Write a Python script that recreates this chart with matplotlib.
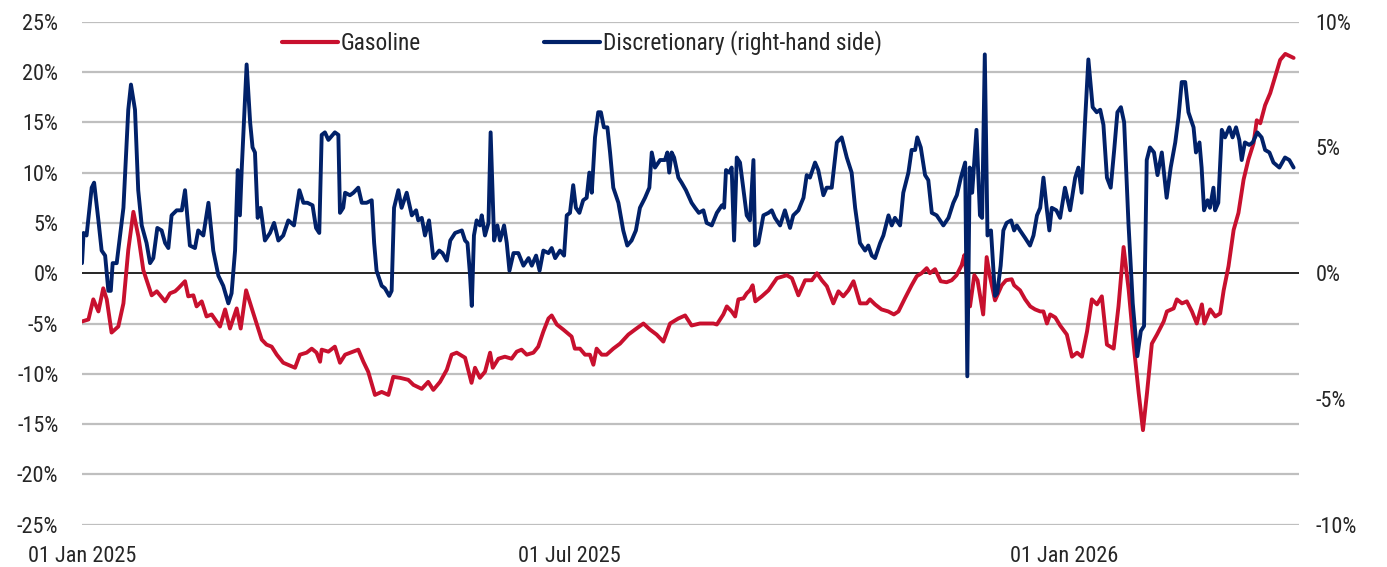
import matplotlib
matplotlib.use("Agg")
import matplotlib.pyplot as plt
import matplotlib.dates as mdates
import pandas as pd
from matplotlib.lines import Line2D

plt.rcParams['font.family'] = ['Roboto Condensed', 'Open Sans Condensed', 'Liberation Sans', 'DejaVu Sans']
plt.rcParams['axes.unicode_minus'] = False

start_date = "2025-01-01"
end_date_days = 452.4

# Gasoline (left axis, %), days since 1 Jan 2025
gas_days = [0, 2.4, 4.2, 6.1, 7.9, 9.2, 11, 13.5, 15.4, 17.2, 19.1, 21, 22.8, 25.9, 27.8, 30.9,
            32.7, 34.6, 35.8, 38.3, 39.5, 41.4, 42.6, 44.5, 46.3, 48.2, 51.3, 53.2, 55, 57.5, 59,
            61, 63.7, 66.8, 68.6, 70.5, 72.4, 74.8, 79.2, 81, 83.5, 85.4, 87.2, 88.5, 89.1, 91.6,
            94, 95.9, 97.8, 102.7, 104.6, 106.4, 108.9, 111.4,
            113.9, 115.7, 118.2, 121.3, 123.2, 126.3, 128.7, 130.6, 133.1, 135.6, 137.4, 139.3,
            142.4, 144.8, 146.1, 147.9, 149.8, 151.7, 152.7, 154.8, 157.2, 159.7, 161.6, 163.4,
            165.3, 167.8, 169.6, 171.5, 173.4, 174.6, 176.5, 178.9, 182, 183.2, 185.1, 187,
            188.8, 190.1, 191.3, 193.2, 195, 197.5, 200, 203.1, 205.6, 208.7, 211.1, 213.6,
            216.1, 218.6, 221.7, 224.2,
            226.6, 229.7, 234.7, 236, 238.4, 239.7, 241.5, 242.8, 244, 245.9, 247.1, 248.3,
            249.3, 250.3, 252.7, 255.2, 258.3, 262, 263.9, 266.3, 268.8, 271.3, 273.2, 275,
            276.9, 279.3, 281.2, 283, 284.9, 286.8, 289.2, 291.7, 292.9, 294.8, 297.2, 299.7,
            301.8, 303.5, 305.9, 308.4, 310.3, 312.1, 314, 315.2, 317.1, 319.2, 321.4, 323.3,
            325.1, 327, 328, 330.1, 331.7, 332.9, 335, 336.3, 337.5, 339.4, 341.9, 343.5,
            345.6, 346.5, 348.7, 350.6, 352.5, 354.3, 356.2, 357.4, 358.7, 359.9, 361.8, 363.6,
            366.1, 368, 369.9, 371.7, 373.6, 375.4, 377.3, 379.1, 381, 383.5, 385.3, 387.2,
            389.1, 390.9, 392.8, 394.4, 395.9, 397.7, 399.6, 402.1, 403.3, 405.8, 407, 408.9,
            410.7, 412.6, 414.4, 416.3, 417.2, 419.4, 421.3, 423.1, 424.4, 426.2, 428.1, 429.9,
            431.8, 433.6, 435.5, 436.7, 438, 439.8, 441.7, 443.5, 445.4, 447.3, 450.4]
gas_vals = [-4.8, -4.6, -2.6, -3.8, -1.5, -2.6, -5.9, -5.3, -3.0, 2.3, 6.1, 3.6, 0.3, -2.2, -1.8, -2.8,
            -2.0, -1.8, -1.5, -0.8, -2.3, -2.2, -3.3, -2.8, -4.3, -4.1, -5.3, -3.6, -5.5, -3.5, -5.5,
            -1.7, -4.0, -6.6, -7.1, -7.3, -8.1, -8.9, -9.4, -8.1, -7.9, -7.5, -7.9, -8.8, -7.6, -7.8,
            -7.3, -8.9, -8.1, -7.6, -8.8, -9.8, -12.1, -11.8,
            -12.1, -10.3, -10.4, -10.6, -11.1, -11.5, -10.8, -11.6, -10.8, -9.6, -8.1, -7.9,
            -8.4, -10.9, -9.4, -10.4, -9.8, -7.9, -9.4, -8.5, -8.3, -8.5, -7.8, -7.6,
            -8.1, -7.9, -7.3, -5.8, -4.5, -4.2, -5.1, -5.6, -6.3, -7.5, -7.5, -8.1,
            -8.1, -9.1, -7.5, -8.1, -8.1, -7.5, -7.0, -6.1, -5.6, -5.0, -5.6, -6.1,
            -6.8, -5.0, -4.5, -4.2,
            -5.2, -5.0, -5.0, -5.1, -4.1, -3.3, -3.8, -4.3, -2.6, -2.5, -2.0, -1.7,
            -1.2, -2.8, -2.3, -1.7, -0.5, -0.2, -0.5, -2.2, -0.7, -0.7, 0.0, -0.7,
            -1.3, -3.0, -1.8, -2.3, -1.7, -0.8, -3.0, -3.0, -2.6, -3.1, -3.6, -3.8,
            -4.1, -3.8, -2.5, -1.2, -0.3, 0.0, 0.5, 0.0, 0.4, -0.8, -0.9, -0.7,
            -0.2, 0.8, 1.8, -3.3, -0.2, -0.7, -4.1, 1.6, -0.3, -2.7, -1.2, -0.7,
            -0.6, -1.2, -1.7, -2.6, -3.3, -3.6, -3.8, -3.8, -5.0, -4.1, -4.4, -5.2,
            -6.1, -8.3, -7.9, -8.3, -5.8, -2.6, -3.1, -2.3, -7.1, -7.5, -3.3, 2.6,
            -1.7, -7.0, -11.9, -15.6, -11.9, -7.0, -6.1, -4.8, -3.8, -3.5, -2.6, -3.0,
            -2.8, -3.8, -5.0, -3.1, -5.0, -3.6, -4.3, -4.0, -1.7, 0.7, 4.3, 6.0,
            9.3, 11.3, 12.9, 15.2, 14.9, 16.7, 17.9, 19.5, 21.2, 21.8, 21.4]

# Discretionary (right axis, %), days since 1 Jan 2025
disc_days = [0, 0.6, 1.7, 3.6, 4.5, 6.1, 7.3, 8.6, 9.8, 10.7, 11.4, 12.9, 15.4, 17.2, 18.2, 19.7,
             20.9, 22.2, 24, 25.3, 26.5, 28, 29.6, 30.9, 32.1, 33.3, 35.2, 37.1, 38.3, 40.1, 42,
             43.2, 45.1, 47, 48.8, 50.7, 52.5, 54.4, 55.6, 56.9, 57.9, 58.7, 59.4, 61.2, 62.5,
             63.4, 64.3, 65.3, 66.4, 68, 69.9, 71.4, 73, 74.8, 76.7, 78.8, 80.8, 82.3, 83.8, 85.7,
             87, 88.2, 89.1, 90.3, 91.6, 94, 95.3, 95.9, 97.1, 97.8, 99.6, 100.9, 102.7, 104,
             105.8, 107.7, 108.6, 109.5, 111.4, 112.6, 114.2, 115.1, 116, 117.6, 118.8, 120.7,
             122.6, 124.2, 125, 126.3, 127.5, 129, 130.6, 132.8, 134, 135.6, 136.9, 138.7, 141.2,
             142.4, 143.3, 144.2, 144.9, 145.7, 146.7, 147.9, 148.6, 149.8, 151.1, 151.9, 153.2,
             154.4, 155.4, 156.9, 157.9, 158.9, 160.4, 162.2, 164.1, 166, 167.2, 168.8, 170.1,
             171.5, 173.4, 174.6, 175.9, 177.7, 179.2, 180.2, 181.4, 182.6, 183.6, 184.9, 186.3,
             187.6, 188.6, 189.5, 190.7, 191.9, 192.9, 194, 195.3, 196.3, 197.5, 199.4, 201.2,
             202.7, 204.3, 205.9, 207.4, 209.3, 210.9, 211.8, 213, 214.9, 216.7, 217.6, 218.3,
             219.2, 220.1, 221.7, 222.9, 224.5, 226.6, 227.9, 229.3, 231, 232.2, 234.1, 236,
             237.9, 238.7, 239.4, 240.6, 241.5, 242.4, 243.4, 244.6, 245.9, 247.1, 248.3, 249.6,
             250.2, 251.4, 253.3, 255.2, 256.4, 257.6, 259.5, 261.3, 263.2, 264.4, 266.3, 268.2,
             269.4, 270.6, 272.5, 273.7, 275.6, 276.8, 278.7, 280.6, 282.4, 284.3, 286.1, 287.4,
             289.2, 291.1, 292.3, 293.6, 294.8, 296.7, 297.9, 299.8, 301, 302.2, 304.1, 305.3,
             307.2, 308.4, 309.7, 310.5, 311.8, 313.4, 314.6, 315.9, 317.7, 320.2, 322.1, 323.9,
             325.2, 326.7, 328.3, 329.1, 330, 330.9, 332.5, 333.8, 334.6, 335.6, 336.6, 337.9,
             339.4, 340.2, 341.5, 342.5, 343.7, 345.4, 346.5, 347.5, 348.7, 350.6, 352.4, 353.7,
             355, 356.2, 357.4, 358.7, 359.6, 360.5, 362.2, 363.6, 365.4, 367.3, 369.2, 370.4,
             371.6, 372.9, 374.1, 375.7, 377.2, 378.5, 379.7, 381, 382.4, 383.7, 384.9, 386.2,
             387.4, 389, 390.6, 392.3, 393.6, 394.8, 395.8, 397, 398.5, 399.8, 401.4, 403.2,
             404.7, 406.4, 407.6, 408.8, 410.1, 411.3, 413.2, 414.1, 415.4, 416.2, 417.1, 418.4,
             419.3, 420.6, 421.2, 422.4, 423.7, 424.9, 426.5, 427.7, 429, 430.2, 431.1, 432.3,
             433.9, 435.2, 436.9, 438.5, 439.8, 441.4, 442.9, 445.1, 447.2, 448.8, 450.4]
disc_vals = [0.4, 1.6, 1.5, 3.4, 3.6, 2.1, 0.9, 0.7, -0.7, -0.7, 0.4, 0.4, 2.6, 6.5, 7.5, 6.5,
             3.3, 1.9, 1.2, 0.4, 0.6, 1.8, 1.7, 1.2, 1.0, 2.3, 2.5, 2.5, 3.3, 1.1, 1.0,
             1.7, 1.5, 2.8, 0.9, -0.1, -0.5, -1.2, -0.8, 0.9, 4.1, 2.3, 4.2, 8.3, 6.0,
             5.0, 4.8, 2.2, 2.6, 1.3, 1.6, 2.0, 1.3, 1.5, 2.1, 1.9, 3.3, 2.8, 2.8, 2.7,
             1.8, 1.6, 5.5, 5.6, 5.3, 5.6, 5.5, 2.4, 2.6, 3.2, 3.1, 3.2, 3.4, 2.8,
             2.8, 2.9, 1.2, 0.1, -0.5, -0.6, -0.9, -0.7, 2.6, 3.3, 2.6, 3.2,
             2.3, 2.5, 2.1, 2.2, 1.5, 2.1, 0.6, 0.9, 0.8, 0.5, 1.3, 1.6, 1.7,
             1.3, 1.2, 0.0, -1.3, 1.5, 2.1, 1.9, 2.3, 1.5, 2.0, 5.6, 1.3,
             1.9, 1.3, 1.9, 1.2, 0.1, 0.8, 0.8, 0.3, 0.6, 0.3, 0.7, 0.1,
             0.9, 0.8, 1.0, 0.6, 0.9, 0.7, 2.3, 2.4, 3.5, 2.6, 2.4, 2.9,
             3.0, 4.0, 3.2, 5.4, 6.4, 6.4, 5.8, 5.8, 4.8, 3.4, 2.8, 1.7,
             1.1, 1.3, 1.7, 2.6, 3.0, 3.4, 4.8, 4.2, 4.5, 4.5, 4.8, 4.0,
             4.8, 4.6, 3.8, 3.6, 3.3, 2.8, 2.6, 2.4, 2.5, 2.0, 1.9, 2.4,
             2.7, 2.6, 4.1, 4.0, 4.2, 1.3, 4.6, 4.4, 3.3, 2.3, 2.1, 4.5,
             1.1, 1.2, 2.3, 2.4, 2.5, 2.2, 1.9, 2.5, 1.8, 2.3, 2.5, 3.0,
             3.9, 3.8, 4.4, 4.1, 3.1, 3.4, 3.4, 5.2, 5.4, 4.6, 4.0, 2.6,
             1.2, 0.9, 1.1, 0.7, 0.6, 1.2, 1.5, 2.3, 1.9, 2.2, 1.9, 3.2,
             4.0, 4.9, 4.9, 5.4, 5.0, 3.9, 3.7, 2.4, 2.3, 1.9, 2.2, 2.8,
             3.1, 3.8, 4.4, -4.1, 4.2, 3.2, 5.7, 2.3, 2.2, 8.7, 1.5, 1.7,
             -0.9, -0.8, 0.3, 1.7, 2.0, 2.1, 1.7, 1.9, 1.7, 1.4, 1.1, 1.5,
             2.3, 2.6, 3.8, 2.5, 1.7, 2.6, 2.5, 2.2, 3.4, 2.5, 3.8, 4.2,
             3.2, 6.1, 8.5, 6.6, 6.4, 6.5, 5.9, 3.8, 3.4, 4.9, 6.4, 6.6,
             6.0, 2.0, -1.2, -3.3, -2.3, -2.1, 4.5, 5.0, 4.8, 3.9, 4.8, 3.0,
             4.2, 5.2, 6.2, 7.6, 7.6, 6.4, 5.8, 4.8, 5.2, 4.2, 2.5, 2.9,
             2.6, 3.4, 2.5, 2.8, 5.7, 5.4, 5.8, 5.4, 5.8, 5.3, 4.5, 5.2,
             5.1, 5.2, 5.6, 5.4, 4.9, 4.8, 4.4, 4.2, 4.6, 4.5, 4.2]

left_ticks = [-25, -20, -15, -10, -5, 0, 5, 10, 15, 20, 25]
right_ticks = [-10, -5, 0, 5, 10]
x_tick_dates = ["2025-01-01", "2025-07-01", "2026-01-01"]

series_names = ["Gasoline", "Discretionary (right-hand side)"]
red = "#C8102E"
navy = "#012169"
text_col = "#262626"
FS = 16

t0 = pd.Timestamp(start_date)
gas_x = t0 + pd.to_timedelta(gas_days, unit="D")
disc_x = t0 + pd.to_timedelta(disc_days, unit="D")

fig = plt.figure(figsize=(13.87, 5.67), dpi=100)
ax = fig.add_axes([82 / 1387, 1 - 524.7 / 567, (1299 - 82) / 1387, (524.7 - 21.7) / 567])
ax2 = ax.twinx()

ax.plot(gas_x, gas_vals, color=red, lw=2.8, solid_joinstyle="round", solid_capstyle="round", zorder=3)
ax2.plot(disc_x, disc_vals, color=navy, lw=2.8, solid_joinstyle="round", solid_capstyle="round", zorder=3)

ax.set_xlim(t0, t0 + pd.Timedelta(days=end_date_days))
ax.set_ylim(-25, 25)
ax2.set_ylim(-10, 10)

ax.set_yticks(left_ticks)
ax.set_yticklabels([f"{v}%" for v in left_ticks])
ax2.set_yticks(right_ticks)
ax2.set_yticklabels([f"{v}%" for v in right_ticks])
ax.set_xticks([pd.Timestamp(d) for d in x_tick_dates])
ax.xaxis.set_major_formatter(mdates.DateFormatter("%d %b %Y"))

for a in (ax, ax2):
    for s in a.spines.values():
        s.set_visible(False)
    a.tick_params(length=0, labelsize=FS, colors=text_col)
ax.tick_params(axis="y", pad=17)
ax2.tick_params(axis="y", pad=12)
ax.tick_params(axis="x", pad=15)

ax.set_axisbelow(True)
for v in left_ticks:
    if v == 0:
        ax.axhline(0, color="black", lw=1.2, zorder=2)
    else:
        ax.axhline(v, color="#BFBFBF", lw=1.6, zorder=1)

handles = [Line2D([], [], color=red, lw=3, solid_capstyle="round"),
           Line2D([], [], color=navy, lw=3, solid_capstyle="round")]
fig.legend(handles, series_names, loc="center left", bbox_to_anchor=(282 / 1387, 1 - 43 / 567),
           ncol=2, frameon=False, fontsize=16.8, handlelength=2.4, handletextpad=0.1,
           columnspacing=5.3, borderpad=0, borderaxespad=0, labelcolor=text_col)

fig.savefig("out.png", dpi=100)
